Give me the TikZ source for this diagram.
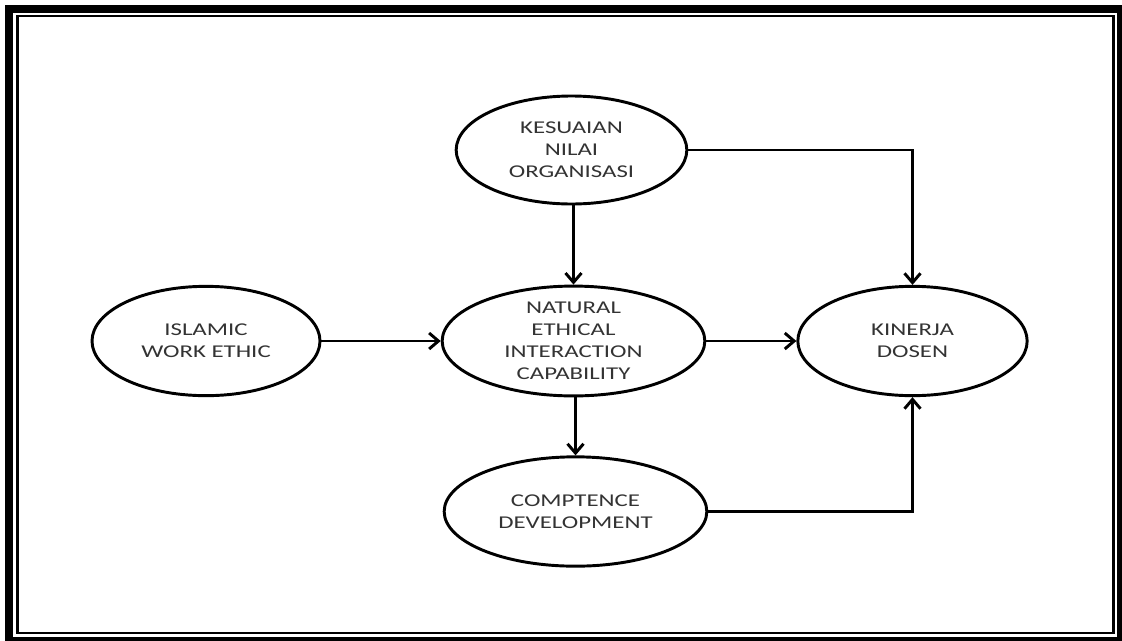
\documentclass[tikz,border=0pt]{standalone}
\usepackage{fontspec}
\setmainfont{Carlito}[FakeStretch=1.38]
\usepackage{tikz}
\usetikzlibrary{arrows.meta}
\usetikzlibrary{shapes.geometric}
\tikzset{>={Straight Barb[length=7pt,width=12pt]}}
\begin{document}
\begin{tikzpicture}[x=0.75pt, y=-0.75pt,
    var/.style={draw, ellipse, line width=2.2pt, inner sep=0pt, align=center,
        text=black!80, font=\fontsize{13.5}{16.5}\selectfont},
    link/.style={->, line width=2.2pt}]
		\useasboundingbox (0,0) rectangle (1122,640);
		\clip (0,0) rectangle (1122,640);
		% frame
		\draw[line width=6pt] (9,9) rectangle (1121,641);
		\draw[line width=2.2pt] (17.5,16) rectangle (1113.5,633);
		% variables
		\node[var, minimum width=173pt, minimum height=81pt] (knio) at (571.5,150) {KESUAIAN\\NILAI\\ORGANISASI};
		\node[var, minimum width=197pt, minimum height=81pt] (neic) at (573.5,341) {NATURAL\\ETHICAL\\INTERACTION\\CAPABILITY};
		\node[var, minimum width=171pt, minimum height=82pt] (iwe) at (206,341) {ISLAMIC\\WORK ETHIC};
		\node[var, minimum width=172pt, minimum height=82pt] (kd) at (912.5,341) {KINERJA\\DOSEN};
		\node[var, minimum width=197pt, minimum height=82pt] (cd) at (575.5,511.5) {COMPTENCE\\DEVELOPMENT};
		% paths
		\draw[link] (iwe) -- (neic);
		\draw[link] (knio.south -| neic.north) -- (neic.north);
		\draw[link] (neic) -- (kd);
		\draw[link] (neic.south -| cd.north) -- (cd.north);
		\draw[link] (knio.east) -| (kd.north);
		\draw[link] (cd.east) -| (kd.south);
	\end{tikzpicture}
\end{document}
